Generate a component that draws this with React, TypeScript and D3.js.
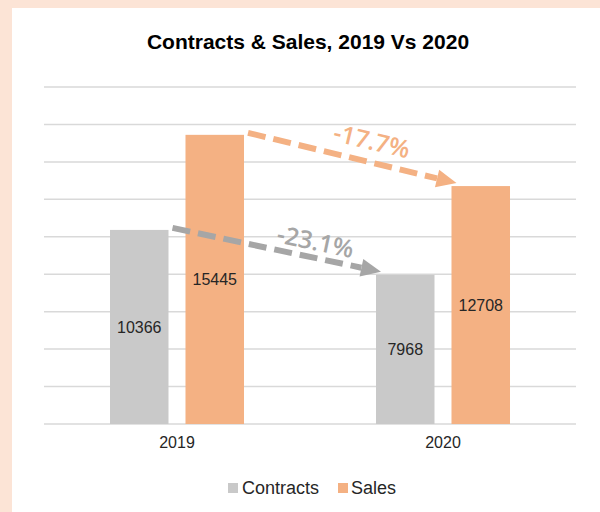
import React from "react";
import * as d3 from "d3";

const categories = ["2019", "2020"];
const seriesNames = ["Contracts", "Sales"];
const contractsValues = [10366, 7968];
const salesValues = [15445, 12708];
const yTicks = [0, 2000, 4000, 6000, 8000, 10000, 12000, 14000, 16000, 18000];
const title = "Contracts & Sales, 2019 Vs 2020";

const W = 600;
const H = 512;
const colors: Record<string, string> = { Contracts: "#C9C9C9", Sales: "#F4B183" };
const arrowColors: Record<string, string> = { Contracts: "#A6A6A6", Sales: "#F4B183" };
const valuesBySeries: Record<string, number[]> = { Contracts: contractsValues, Sales: salesValues };

const plotLeft = 44;
const plotRight = 576;
const plotTop = 87;
const plotBottom = 424;

export default function App() {
  const x0 = d3.scaleBand<string>().domain(categories).range([plotLeft, plotRight]).padding(0);
  const x1 = d3
    .scaleBand<string>()
    .domain(seriesNames)
    .range([0, x0.bandwidth()])
    .paddingInner(0.225)
    .paddingOuter(0.874);
  const y = d3.scaleLinear().domain([0, 18000]).range([plotBottom, plotTop]);

  const arrows = seriesNames.map((s) => {
    const v = valuesBySeries[s];
    const sx = (x0(categories[0]) as number) + (x1(s) as number) + x1.bandwidth() + 4;
    const sy = y(v[0]) - 2;
    const ex = (x0(categories[1]) as number) + (x1(s) as number) + 5;
    const ey = y(v[1]) - 3;
    const dx = ex - sx;
    const dy = ey - sy;
    const len = Math.sqrt(dx * dx + dy * dy);
    const ux = dx / len;
    const uy = dy / len;
    const headLen = 20;
    const headHalf = 9;
    const bx = ex - ux * headLen;
    const by = ey - uy * headLen;
    const px = -uy;
    const py = ux;
    const head = [
      [ex, ey],
      [bx + px * headHalf, by + py * headHalf],
      [bx - px * headHalf, by - py * headHalf],
    ];
    const pct = ((v[1] - v[0]) / v[0]) * 100;
    const t = s === "Sales" ? 0.57 : 0.67;
    const off = s === "Sales" ? 21 : 16;
    const tx = sx + dx * t - px * off;
    const ty = sy + dy * t - py * off;
    const angle = (Math.atan2(dy, dx) * 180) / Math.PI;
    return { s, sx, sy, bx, by, head, pct, tx, ty, angle };
  });

  return (
    <svg
      width={W}
      height={H}
      style={{ position: "absolute", left: 0, top: 0 }}
      fontFamily="'Liberation Sans', Arial, sans-serif"
    >
      <rect x={0} y={0} width={W} height={H} fill="#FCE4D6" />
      <rect x={12} y={8} width={W - 12} height={H - 8} fill="#FFFFFF" />
      <text x={308} y={49} textAnchor="middle" fontSize={21} fontWeight="bold" fill="#000">
        {title}
      </text>
      {yTicks.map((t) => (
        <line
          key={t}
          x1={plotLeft}
          x2={plotRight}
          y1={y(t)}
          y2={y(t)}
          stroke="#D9D9D9"
          strokeWidth={1.5}
        />
      ))}
      {categories.map((c, i) => (
        <g key={c} transform={`translate(${x0(c)},0)`}>
          {seriesNames.map((s) => {
            const v = valuesBySeries[s][i];
            const bx = x1(s) as number;
            return (
              <g key={s}>
                <rect x={bx} y={y(v)} width={x1.bandwidth()} height={y(0) - y(v)} fill={colors[s]} />
                <text
                  x={bx + x1.bandwidth() / 2}
                  y={(y(v) + y(0)) / 2}
                  dy="0.35em"
                  textAnchor="middle"
                  fontSize={16}
                  fill="#262626"
                >
                  {v}
                </text>
              </g>
            );
          })}
          <text x={x0.bandwidth() / 2} y={448} textAnchor="middle" fontSize={16} fill="#262626">
            {c}
          </text>
        </g>
      ))}
      {arrows.map((a) => (
        <g key={a.s}>
          <line
            x1={a.sx}
            y1={a.sy}
            x2={a.bx}
            y2={a.by}
            stroke={arrowColors[a.s]}
            strokeWidth={6}
            strokeDasharray="18 8"
          />
          <polygon points={a.head.map((p) => p.join(",")).join(" ")} fill={arrowColors[a.s]} />
          <text
            transform={`translate(${a.tx},${a.ty}) rotate(${a.angle})`}
            textAnchor="middle"
            dy="0.35em"
            fontFamily="'Open Sans', Lato, sans-serif"
            fontWeight={600}
            fontSize={24.5}
            fill={arrowColors[a.s]}
          >
            {a.pct.toFixed(1)}%
          </text>
        </g>
      ))}
      <g fontSize={18} fill="#262626">
        <rect x={228} y={483} width={10} height={10} fill={colors.Contracts} />
        <text x={242} y={494}>Contracts</text>
        <rect x={338} y={483} width={10} height={10} fill={colors.Sales} />
        <text x={351} y={494}>Sales</text>
      </g>
    </svg>
  );
}
